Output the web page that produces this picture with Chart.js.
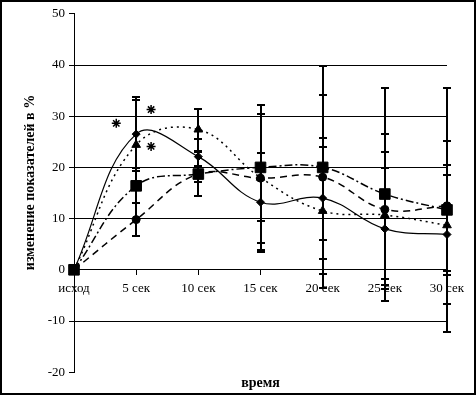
<!DOCTYPE html>
<html lang="ru">
<head>
    <meta charset="UTF-8">
    <title>изменение показателей в %</title>
    <script src="https://cdn.jsdelivr.net/npm/chart.js"></script>
    <style>
        html, body { margin: 0; padding: 0; background: #fff; }
        #frame { width: 476px; height: 395px; border: 2px solid #000; box-sizing: border-box; }
        #box { position: relative; width: 472px; height: 391px; }
    </style>
</head>
<body>
    <div id="frame"><div id="box"><canvas id="myChart"></canvas></div></div>

    <script>
        // categories on the time axis
        const labels = ['исход', '5 сек', '10 сек', '15 сек', '20 сек', '25 сек', '30 сек'];

        // series values (%) and their error bars
        const diamondValues = [0, 26.5, 22.1, 13.2, 14.0, 8.0, 6.9];
        const diamondErrors = [0, 7.3, 3.4, 9.7, 11.8, 11.8, 13.5];

        const triangleValues = [0, 24.4, 27.4, 18.0, 11.5, 10.7, 8.7];
        const triangleErrors = [0, 8.7, 4.1, 14.2, 12.4, 12.4, 9.8];

        const squareValues = [0, 16.4, 18.7, 20.0, 20.0, 14.8, 11.7];
        const squareErrors = [0, 3.4, 4.3, 10.4, 14.2, 20.8, 23.9];

        const circleValues = [0, 9.8, 18.7, 17.9, 18.1, 11.8, 12.5];
        const circleErrors = [0, 3.2, 1.5, 12.6, 21.7, 14.8, 12.7];

        // significance marks (*) near 5 сек
        const starX = [0.68, 1.24, 1.24];
        const starY = [28.6, 31.3, 24.1];

        const font = 'Liberation Serif';

        function toPoints(values) {
            return values.map((v, i) => ({ x: i, y: v }));
        }

        // vertical error bars with caps, drawn under the markers
        const errorBars = {
            id: 'errorBars',
            beforeDatasetsDraw(chart) {
                const { ctx, scales: { x, y } } = chart;
                ctx.save();
                ctx.strokeStyle = '#000';
                ctx.lineWidth = 2;
                chart.data.datasets.forEach(ds => {
                    if (!ds.errors) return;
                    ds.data.forEach((p, i) => {
                        const e = ds.errors[i];
                        if (!e) return;
                        const px = Math.round(x.getPixelForValue(p.x));
                        const top = Math.round(y.getPixelForValue(p.y + e));
                        const bot = Math.round(y.getPixelForValue(p.y - e));
                        ctx.beginPath();
                        ctx.moveTo(px, top);
                        ctx.lineTo(px, bot);
                        ctx.moveTo(px - 4, top);
                        ctx.lineTo(px + 4, top);
                        ctx.moveTo(px - 4, bot);
                        ctx.lineTo(px + 4, bot);
                        ctx.stroke();
                    });
                });
                ctx.restore();
            }
        };

        function series(values, errors, style, radius, dash, width) {
            return {
                data: toPoints(values),
                errors: errors,
                borderColor: '#000',
                backgroundColor: '#000',
                borderWidth: width,
                borderDash: dash,
                pointStyle: style,
                pointRadius: radius,
                pointBorderWidth: 1,
                tension: 0.4,
                fill: false,
                clip: false
            };
        }

        const config = {
            type: 'line',
            data: {
                datasets: [
                    series(diamondValues, diamondErrors, 'rectRot', 4, [], 1.2),
                    series(triangleValues, triangleErrors, 'triangle', 5, [2, 4], 1.5),
                    series(squareValues, squareErrors, 'rect', 7.5, [8, 3, 2, 3], 1.5),
                    series(circleValues, circleErrors, 'circle', 4, [7, 5], 1.5),
                    {
                        data: starX.map((x, i) => ({ x: x, y: starY[i] })),
                        showLine: false,
                        pointStyle: 'star',
                        pointRadius: 4.5,
                        pointBorderWidth: 1.5,
                        borderColor: '#000',
                        backgroundColor: '#000',
                        clip: false
                    }
                ]
            },
            options: {
                responsive: true,
                maintainAspectRatio: false,
                animation: false,
                layout: { padding: { left: 0, right: 27, top: 8, bottom: 0 } },
                plugins: {
                    legend: { display: false },
                    tooltip: { enabled: false },
                    title: {
                        display: true,
                        text: 'время',
                        position: 'bottom',
                        fullSize: false,
                        color: '#000',
                        font: { family: font, size: 14, weight: 'bold' },
                        padding: { top: 3, bottom: 1 }
                    }
                },
                scales: {
                    x: {
                        type: 'linear',
                        min: 0,
                        max: 6,
                        position: { y: 0 },
                        ticks: {
                            stepSize: 1,
                            autoSkip: false,
                            maxRotation: 0,
                            color: '#000',
                            padding: 6,
                            font: { family: font, size: 13 },
                            callback: v => labels[v]
                        },
                        grid: { drawOnChartArea: false, tickColor: '#000', tickLength: 5 },
                        border: { color: '#000', width: 1 }
                    },
                    y: {
                        min: -20,
                        max: 50,
                        ticks: {
                            stepSize: 10,
                            color: '#000',
                            padding: 4,
                            font: { family: font, size: 13 }
                        },
                        grid: {
                            color: c => (c.tick && (c.tick.value === 50 || c.tick.value === -20)) ? 'rgba(0,0,0,0)' : '#000',
                            tickColor: '#000',
                            tickLength: 5,
                            lineWidth: 1
                        },
                        border: { color: '#000', width: 1 },
                        title: {
                            display: true,
                            // leading spaces nudge the centred text upwards, like the original
                            text: '      изменение показателей в %',
                            color: '#000',
                            font: { family: font, size: 14, weight: 'bold' },
                            padding: { top: 20, bottom: 0 }
                        },
                        afterFit(scale) { scale.width = 72; }
                    }
                }
            },
            plugins: [errorBars]
        };

        const ctx = document.getElementById('myChart').getContext('2d');
        new Chart(ctx, config);
    </script>
</body>
</html>
